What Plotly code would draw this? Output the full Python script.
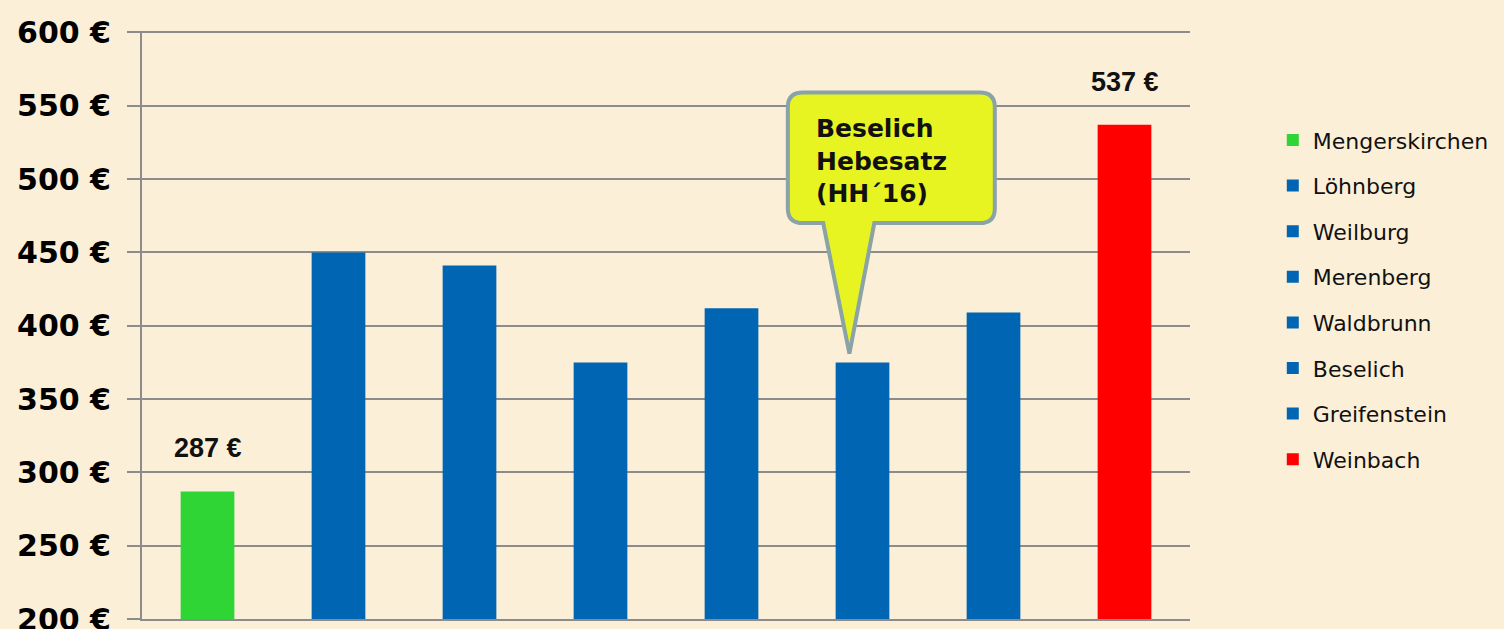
"""Grundsteuer-Hebesatz Vergleich - bar chart with callout."""
import plotly.graph_objects as go

# Data
gemeinden = ["Mengerskirchen", "Löhnberg", "Weilburg", "Merenberg",
             "Waldbrunn", "Beselich", "Greifenstein", "Weinbach"]
hebesatz = [287, 450, 441, 375, 412, 375, 409, 537]
farben = ["#2ED534", "#0066B3", "#0066B3", "#0066B3",
          "#0066B3", "#0066B3", "#0066B3", "#FF0000"]
y_ticks = [200, 250, 300, 350, 400, 450, 500, 550, 600]
label_idx = [0, 7]  # bars with value labels
callout_idx = 5     # Beselich
callout_text = "Beselich<br>Hebesatz<br>(HH´16)"

BG = "#FCEFD8"
GRID = "#8C8C8C"
ARIAL = "Liberation Sans, Arial, sans-serif"
WIDE = "DejaVu Sans, Verdana, sans-serif"

fig = go.Figure()

for i, (name, val, col) in enumerate(zip(gemeinden, hebesatz, farben)):
    fig.add_trace(go.Bar(
        x=[i],
        y=[val],
        name=name,
        marker_color=col,
        marker_line_width=0,
        width=0.41,
        legendgroup=name,
    ))

# value labels
for i in label_idx:
    fig.add_annotation(
        x=i, y=hebesatz[i], text=f"{hebesatz[i]} €",
        showarrow=False, yanchor="bottom", yshift=26,
        font=dict(family=ARIAL, size=27, color="#111111", weight="bold"),
    )

# speech bubble callout pointing at Beselich
cx, cy = callout_idx, hebesatz[callout_idx]
tip_x, tip_y = cx - 0.10, cy + 6
left, right = cx - 0.57, cx + 1.01
top, bottom = cy + 184, cy + 95
rx, ry = 0.115, 10.0
base_l, base_r = cx - 0.30, cx + 0.09
path = (
    f"M {left + rx},{top} L {right - rx},{top} "
    f"Q {right},{top} {right},{top - ry} "
    f"L {right},{bottom + ry} Q {right},{bottom} {right - rx},{bottom} "
    f"L {base_r},{bottom} L {tip_x},{tip_y} L {base_l},{bottom} "
    f"L {left + rx},{bottom} Q {left},{bottom} {left},{bottom + ry} "
    f"L {left},{top - ry} Q {left},{top} {left + rx},{top} Z"
)
fig.add_shape(
    type="path", path=path, xref="x", yref="y",
    fillcolor="#E8F422", line=dict(color="#8AA3A6", width=4), layer="above",
)
fig.add_annotation(
    x=left + 0.2, y=(top + bottom) / 2, yshift=-3, text=callout_text,
    showarrow=False, xanchor="left", align="left",
    font=dict(family=WIDE, size=25, color="#111111", weight="bold"),
)

fig.update_layout(
    width=1504,
    height=629,
    paper_bgcolor=BG,
    plot_bgcolor=BG,
    barmode="overlay",
    margin=dict(l=142, r=314, t=31, b=10, autoexpand=False),
    showlegend=True,
    legend=dict(
        x=1.079, xanchor="left", y=0.850, yanchor="top",
        font=dict(family=WIDE, size=22, color="#111111"),
        tracegroupgap=14,
        bgcolor="rgba(0,0,0,0)",
        itemclick=False,
    ),
    xaxis=dict(
        range=[-0.5, 7.5],
        showticklabels=False,
        ticks="",
        showgrid=False,
        zeroline=False,
        showline=True,
        linecolor=GRID,
        linewidth=2,
        fixedrange=True,
    ),
    yaxis=dict(
        range=[200, 601],
        tickvals=y_ticks,
        ticktext=[f"{v} €" for v in y_ticks],
        tickfont=dict(family=WIDE, size=30, color="#000000", weight="bold"),
        ticks="outside",
        ticklen=13,
        tickwidth=2,
        tickcolor=GRID,
        ticklabelstandoff=10,
        ticklabeloverflow="allow",
        showgrid=True,
        gridcolor=GRID,
        gridwidth=2,
        zeroline=False,
        showline=True,
        linecolor=GRID,
        linewidth=2,
        automargin=False,
        fixedrange=True,
    ),
)

# drop the default page margin so the chart sits at the window's corner
fig.write_html(
    "out.html",
    config={"displayModeBar": False},
    post_script="document.body.style.margin = '0';",
)
